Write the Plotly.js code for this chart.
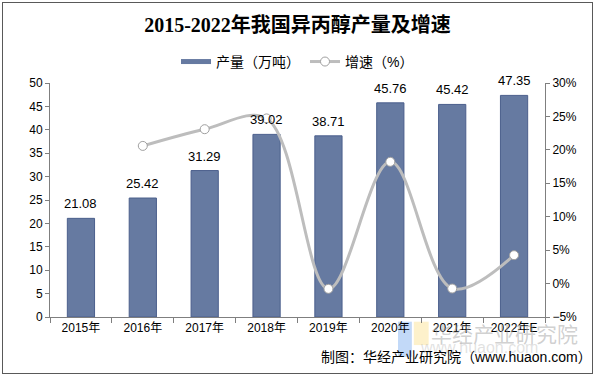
<!DOCTYPE html>
<html>
<head>
<meta charset="utf-8">
<script src="https://cdn.plot.ly/plotly-3.0.1.min.js"></script>
<style>
html,body{margin:0;padding:0;background:#fff;}
#wrap{position:relative;width:596px;height:377px;}
#chart{width:596px;height:377px;}
#frame{position:absolute;left:2px;top:2px;width:589px;height:370px;border:1px solid #595959;pointer-events:none;}
</style>
</head>
<body>
<div id="wrap"><div id="chart"></div><div id="frame"></div></div>
<script>
const years = ["2015年","2016年","2017年","2018年","2019年","2020年","2021年","2022年E"];
const output = [21.08, 25.42, 31.29, 39.02, 38.71, 45.76, 45.42, 47.35];
const growthYears = ["2016年","2017年","2018年","2019年","2020年","2021年","2022年E"];
const growth = [20.59, 23.09, 24.70, -0.79, 18.21, -0.74, 4.25];
const outputName = "产量（万吨）";
const growthName = "增速（%）";
const titleText = "2015-2022年我国异丙醇产量及增速";
const sourceText = "制图：华经产业研究院（www.huaon.com）";
const watermarkText = "华经产业研究院";
const watermarkUrl = "www.huaon.com";

const sans = "Liberation Sans, Arial, Noto Sans CJK SC, sans-serif";
const cjk = "Liberation Sans, Noto Sans CJK SC, sans-serif";
const barColor = "#667aa1";

const traces = [
  {
    type: "bar", name: outputName, x: years, y: output, showlegend: false,
    marker: {color: barColor, line: {color: "#4b5f8c", width: 1}},
    hoverinfo: "x+y"
  },
  {
    type: "scatter", mode: "lines", name: outputName, x: [null], y: [null],
    line: {color: barColor, width: 5}, showlegend: true, hoverinfo: "skip"
  },
  {
    type: "scatter", mode: "lines+markers", name: growthName,
    x: growthYears, y: growth, yaxis: "y2",
    line: {color: "#bdbdbd", width: 3, shape: "spline", smoothing: 1},
    marker: {size: 9, color: "#ffffff", line: {color: "#a0a0a0", width: 1}},
    cliponaxis: false
  }
];

const labelAnns = years.map((c, i) => ({
  x: c, y: output[i], xref: "x", yref: "y", text: output[i].toFixed(2),
  showarrow: false, yanchor: "bottom", yshift: 5,
  font: {family: sans, size: 13, color: "#000"}
}));

const layout = {
  width: 596, height: 377,
  margin: {l: 50, r: 51, t: 83, b: 60},
  paper_bgcolor: "#fff", plot_bgcolor: "#fff",
  bargap: 0.56,
  title: {text: titleText, x: 0.5, xref: "paper", xanchor: "center", y: 0.935, yanchor: "middle",
    font: {family: "Liberation Serif, Noto Sans CJK SC, serif", size: 20, color: "#000", weight: "bold"}},
  showlegend: true,
  legend: {orientation: "h", x: 0.5, xanchor: "center", y: 1.09, yanchor: "middle",
    font: {family: cjk, size: 14, color: "#000"}, itemwidth: 30, traceorder: "normal", tracegroupgap: 0},
  xaxis: {type: "category", categoryorder: "array", categoryarray: years,
    showline: true, linecolor: "#7f7f7f", linewidth: 1, ticks: "outside", ticklen: 5, tickcolor: "#7f7f7f",
    tickson: "boundaries", showgrid: false, tickfont: {family: cjk, size: 12, color: "#000"}},
  yaxis: {range: [0, 50], dtick: 5, showline: true, linecolor: "#7f7f7f", ticks: "outside", ticklen: 4,
    tickcolor: "#7f7f7f", showgrid: false, zeroline: false, tickfont: {family: sans, size: 12, color: "#000"}},
  yaxis2: {range: [-5, 30], dtick: 5, overlaying: "y", side: "right", ticksuffix: "%",
    showline: true, linecolor: "#7f7f7f", ticks: "outside", ticklen: 4, tickcolor: "#7f7f7f",
    showgrid: false, zeroline: false, tickfont: {family: sans, size: 12, color: "#000"}},
  shapes: [
    {type: "rect", xref: "paper", yref: "paper", x0: 0.703, x1: 0.731, y0: -0.02, y1: -0.17,
      fillcolor: "rgba(120,170,240,0.45)", line: {width: 0}, layer: "below"},
    {type: "rect", xref: "paper", yref: "paper", x0: 0.735, x1: 0.765, y0: -0.02, y1: -0.12,
      fillcolor: "rgba(250,225,140,0.45)", line: {width: 0}, layer: "below"}
  ],
  annotations: labelAnns.concat([
    {text: watermarkText, xref: "paper", yref: "paper", x: 1.07, xanchor: "right", y: -0.075, yanchor: "middle",
      showarrow: false, font: {family: cjk, size: 21, color: "rgba(150,150,150,0.45)"}},
    {text: watermarkUrl, xref: "paper", yref: "paper", x: 0.99, xanchor: "right", y: -0.13, yanchor: "middle",
      showarrow: false, font: {family: sans, size: 16, color: "rgba(170,170,170,0.35)"}},
    {text: sourceText, xref: "paper", yref: "paper", x: 1.098, xanchor: "right", y: -0.17, yanchor: "middle",
      showarrow: false, font: {family: cjk, size: 14, color: "#000"}}
  ])
};

Plotly.newPlot("chart", traces, layout, {displayModeBar: false, staticPlot: true});
</script>
</body>
</html>
